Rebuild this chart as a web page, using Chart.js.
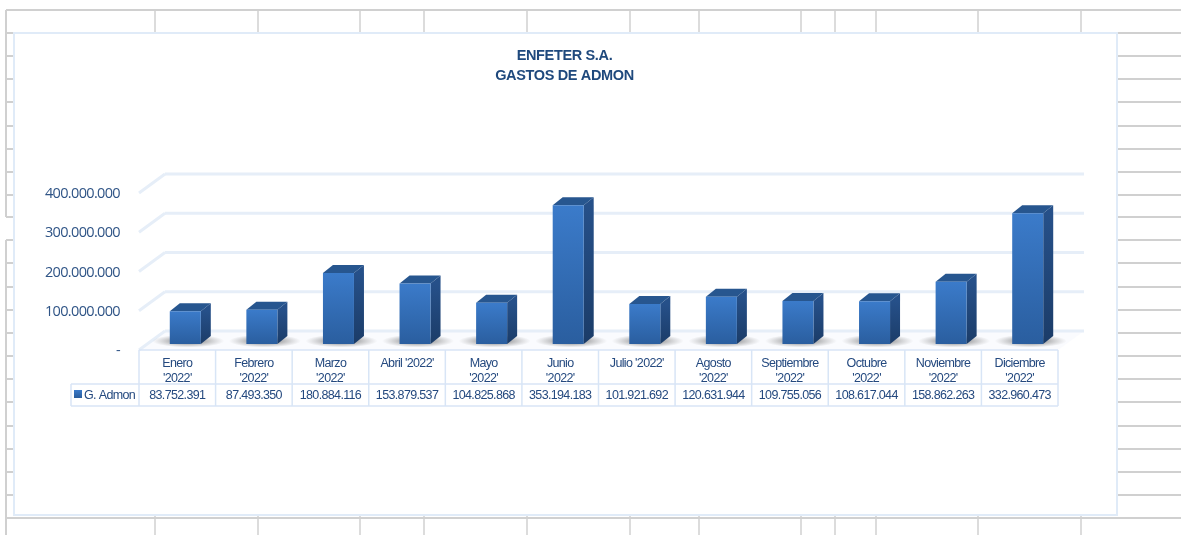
<!DOCTYPE html>
<html lang="es">
<head>
<meta charset="utf-8">
<title>ENFETER S.A. - Gastos de Admon</title>
<script src="https://cdn.jsdelivr.net/npm/chart.js@4"></script>
<style>
  html, body { margin: 0; background: #fff; }
  canvas { display: block; filter: blur(0.35px); }
</style>
</head>
<body>
<canvas id="grafico" width="1181" height="535"></canvas>
<script>
const categorias = [
  ["Enero", "'2022'"], ["Febrero", "'2022'"], ["Marzo", "'2022'"], "Abril '2022'",
  ["Mayo", "'2022'"], ["Junio", "'2022'"], "Julio '2022'", ["Agosto", "'2022'"],
  ["Septiembre", "'2022'"], ["Octubre", "'2022'"], ["Noviembre", "'2022'"], ["Diciembre", "'2022'"],
]
const gastosAdmon = [
  83752391, 87493350, 180884116, 153879537, 104825868, 353194183,
  101921692, 120631944, 109755056, 108617044, 158862263, 332960473,
]
const serie = "G. Admon"
const titulo = ["ENFETER S.A.", "GASTOS DE ADMON"]
const yMax = 400000000
const yPaso = 100000000

// Hoja de cálculo detrás del gráfico
const columnasHoja = [155, 258, 360, 424, 527, 630, 699, 801, 835, 876, 978, 1081]
const filasHoja = [33, 56, 79, 102, 126, 149, 172, 195, 217, 240, 263, 287, 310, 333, 356, 379, 402, 426, 449, 472, 495]

// Profundidad del efecto 3D
const fondoX = 26, fondoY = 19, frenteY = 6
const barraX = 10, barraY = 8

const azulTexto = "#24497f"
const lineaClara = "#e6eef8"
const bordeTabla = "#d8e5f6"

const formato = (n) => (n === 0 ? "-" : String(n).replace(/\B(?=(\d{3})+(?!\d))/g, "."))

function linea(ctx, x1, y1, x2, y2) {
  ctx.beginPath()
  ctx.moveTo(x1, y1)
  ctx.lineTo(x2, y2)
  ctx.stroke()
}

const fondoPlugin = {
  id: "fondo",
  beforeDraw(chart) {
    const ctx = chart.ctx
    const { left, right, bottom } = chart.chartArea
    const y = chart.scales.y
    ctx.save()

    // cuadrícula de la hoja
    ctx.strokeStyle = "#d0d0d0"
    ctx.lineWidth = 2
    linea(ctx, 6, 10, 1181, 10)
    linea(ctx, 6, 518, 1181, 518)
    linea(ctx, 6, 10, 6, 217)
    linea(ctx, 6, 240, 6, 535)
    filasHoja.forEach((f) => {
      linea(ctx, 6, f, 14, f)
      linea(ctx, 1117, f, 1181, f)
    })
    ctx.lineWidth = 1.5
    columnasHoja.forEach((c) => {
      linea(ctx, c, 10, c, 33)
      linea(ctx, c, 513, c, 535)
    })

    // área del gráfico
    ctx.fillStyle = "#fff"
    ctx.fillRect(14, 33, 1103, 482)
    ctx.strokeStyle = "#e0ebf8"
    ctx.lineWidth = 2
    ctx.strokeRect(14, 33, 1103, 482)

    // piso
    const x0 = left - 8, x1 = right - 8
    ctx.fillStyle = "#fafbfe"
    ctx.beginPath()
    ctx.moveTo(x0, bottom + frenteY)
    ctx.lineTo(x1, bottom + frenteY)
    ctx.lineTo(x1 + fondoX, bottom - fondoY + frenteY)
    ctx.lineTo(x0 + fondoX, bottom - fondoY + frenteY)
    ctx.closePath()
    ctx.fill()

    // líneas de la pared y del lado izquierdo
    ctx.strokeStyle = lineaClara
    ctx.lineWidth = 3
    y.ticks.forEach((t) => {
      const py = y.getPixelForValue(t.value) + frenteY
      linea(ctx, x0, py, x0 + fondoX, py - fondoY)
      linea(ctx, x0 + fondoX, py - fondoY, x1 + fondoX, py - fondoY)
    })
    ctx.restore()
    ctx.letterSpacing = "-0.65px"
  },
  beforeDatasetsDraw(chart) {
    const ctx = chart.ctx
    const barras = chart.getDatasetMeta(0).data
    ctx.save()
    ctx.letterSpacing = "0px"

    // sombras sobre el piso
    barras.forEach((b) => {
      ctx.save()
      ctx.translate(b.x + 3, b.base - 3)
      ctx.scale(1, 0.18)
      const g = ctx.createRadialGradient(0, 0, 6, 0, 0, 36)
      g.addColorStop(0, "rgba(60,60,60,0.65)")
      g.addColorStop(1, "rgba(110,110,110,0)")
      ctx.fillStyle = g
      ctx.beginPath()
      ctx.arc(0, 0, 36, 0, Math.PI * 2)
      ctx.fill()
      ctx.restore()
    })

    // cara lateral y superior de cada barra
    barras.forEach((b) => {
      const l = b.x - b.width / 2, r = b.x + b.width / 2
      const lado = ctx.createLinearGradient(0, b.y, 0, b.base)
      lado.addColorStop(0, "#265089")
      lado.addColorStop(1, "#1b3c68")
      ctx.fillStyle = lado
      ctx.beginPath()
      ctx.moveTo(r, b.y)
      ctx.lineTo(r + barraX, b.y - barraY)
      ctx.lineTo(r + barraX, b.base - barraY)
      ctx.lineTo(r, b.base)
      ctx.closePath()
      ctx.fill()

      ctx.fillStyle = "#27568f"
      ctx.beginPath()
      ctx.moveTo(l, b.y)
      ctx.lineTo(l + barraX, b.y - barraY)
      ctx.lineTo(r + barraX, b.y - barraY)
      ctx.lineTo(r, b.y)
      ctx.closePath()
      ctx.fill()
    })
    ctx.restore()
    ctx.letterSpacing = "-0.65px"
  },
  afterDraw(chart) {
    const ctx = chart.ctx
    const { left, right, bottom } = chart.chartArea
    const ancho = (right - left) / categorias.length
    const x0 = left - 8, x1 = right - 8
    const arriba = bottom + frenteY, medio = arriba + 34, abajo = medio + 22
    const leyendaX = 71
    ctx.save()

    // título
    ctx.letterSpacing = "-0.35px"
    ctx.fillStyle = "#1f497d"
    ctx.font = "bold 14.5px 'Liberation Sans'"
    ctx.textAlign = "center"
    ctx.textBaseline = "middle"
    ctx.fillText(titulo[0], 564.5, 56)
    ctx.fillText(titulo[1], 564.5, 76)

    // tabla de datos
    ctx.strokeStyle = bordeTabla
    ctx.lineWidth = 1.5
    linea(ctx, x0, arriba, x1, arriba)
    linea(ctx, leyendaX, medio, x1, medio)
    linea(ctx, leyendaX, abajo, x1, abajo)
    linea(ctx, leyendaX, medio, leyendaX, abajo)
    for (let i = 0; i <= categorias.length; i++) {
      const x = x0 + ancho * i
      linea(ctx, x, arriba, x, abajo)
    }

    ctx.letterSpacing = "-0.65px"
    ctx.fillStyle = azulTexto
    ctx.font = "12.5px 'Liberation Sans'"
    gastosAdmon.forEach((v, i) => {
      ctx.fillText(formato(v), x0 + ancho * (i + 0.5), medio + 12)
    })
    ctx.textAlign = "left"
    ctx.fillText(serie, 84, medio + 12)

    const g = ctx.createLinearGradient(0, medio + 6, 0, medio + 14)
    g.addColorStop(0, "#3a7aca")
    g.addColorStop(1, "#295c9c")
    ctx.fillStyle = g
    ctx.fillRect(74, medio + 6, 8, 8)
    ctx.restore()
  },
}

new Chart(document.getElementById("grafico"), {
  type: "bar",
  data: {
    labels: categorias,
    datasets: [
      {
        label: serie,
        data: gastosAdmon,
        borderWidth: 0,
        barPercentage: 0.405,
        categoryPercentage: 1,
        backgroundColor: (context) => {
          const { chart, parsed } = context
          if (!chart.chartArea || !parsed) return "#3170b8"
          const y = chart.scales.y.getPixelForValue(parsed.y)
          const g = chart.ctx.createLinearGradient(0, y, 0, chart.chartArea.bottom)
          g.addColorStop(0, "#3b7bca")
          g.addColorStop(1, "#2a5e9f")
          return g
        },
      },
    ],
  },
  options: {
    responsive: false,
    animation: false,
    layout: { padding: { top: 187, right: 115, left: 0, bottom: 0 } },
    plugins: {
      legend: { display: false },
      tooltip: { enabled: false },
    },
    scales: {
      x: {
        afterFit: (scale) => { scale.height = 191 },
        border: { display: false },
        grid: { display: false, drawTicks: false },
        ticks: {
          autoSkip: false,
          maxRotation: 0,
          minRotation: 0,
          padding: 12.5,
          labelOffset: -8,
          color: azulTexto,
          font: { family: "'Liberation Sans'", size: 12.5, lineHeight: 1.2 },
        },
      },
      y: {
        min: 0,
        max: yMax,
        afterFit: (scale) => { scale.width = 147 },
        border: { display: false },
        grid: { display: false, drawTicks: false },
        ticks: {
          stepSize: yPaso,
          padding: 27,
          labelOffset: 7,
          color: "#2f5486",
          font: { family: "'Open Sans'", size: 14.5 },
          callback: (value) => formato(value),
        },
      },
    },
  },
  plugins: [fondoPlugin],
})
</script>
</body>
</html>
